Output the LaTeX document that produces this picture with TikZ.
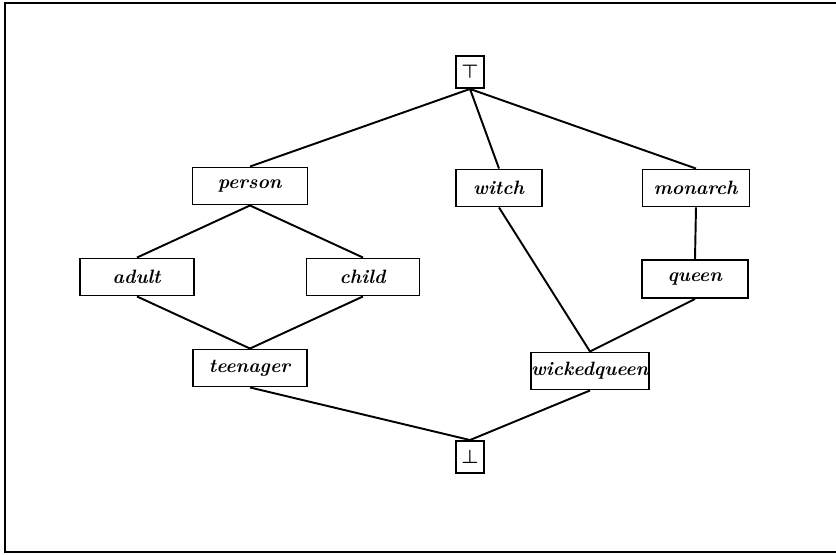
\documentclass[tikz,border=0pt]{standalone}
\usepackage{amssymb}
\usepackage{amsmath}
\newcommand{\tname}[1]{\textbf{\textit{#1}}}

\begin{document}
\begin{tikzpicture}[x=0.02cm,y=-0.02cm,line width=1.1pt,
    font=\fontsize{11}{13}\selectfont,
    box/.style={draw,rectangle,inner sep=0pt,minimum height=0.74cm},
    ends/.style={draw,rectangle,inner sep=0pt,minimum width=0.56cm,minimum height=0.64cm}]
    \useasboundingbox (0,0) rectangle (836,555);
    \draw (836,3) -- (5,3) -- (5,552) -- (836,552);

      \node[ends] (tp) at (470,72) {$\boldsymbol{\top}$};
      \node[box,minimum width=2.3cm] (per) at (250,186) {\tname{person}};
      \node[box,minimum width=1.72cm] (wit) at (499,188) {\tname{witch}};
      \node[box,minimum width=2.14cm] (mon) at (696,188) {\tname{monarch}};
    \node[box,minimum width=2.28cm] (adu) at (137,277) {\tname{adult}};
    \node[box,minimum width=2.26cm] (chi) at (363,277) {\tname{child}};
    \node[box,minimum width=2.12cm,minimum height=0.76cm] (que) at (695,279) {\tname{queen}};
    \node[box,minimum width=2.28cm] (tee) at (250,368) {\tname{teenager}};
    \node[box,minimum width=2.36cm] (wqu) at (590,371) {\tname{wickedqueen}};
    \node[ends] (bt) at (470,457) {$\boldsymbol{\bot}$};

    \draw (tp.south) -- (per.north) (tp.south) -- (wit.north) (tp.south) -- (mon.north)
    (per.south) -- (adu.north) (per.south) -- (chi.north)
    (adu.south) -- (tee.north) (chi.south) -- (tee.north)
    (mon.south) -- (que.north)
    (wit.south) -- (wqu.north) (que.south) -- (wqu.north)
    (tee.south) -- (bt.north) (wqu.south) -- (bt.north);
  \end{tikzpicture}
\end{document}
